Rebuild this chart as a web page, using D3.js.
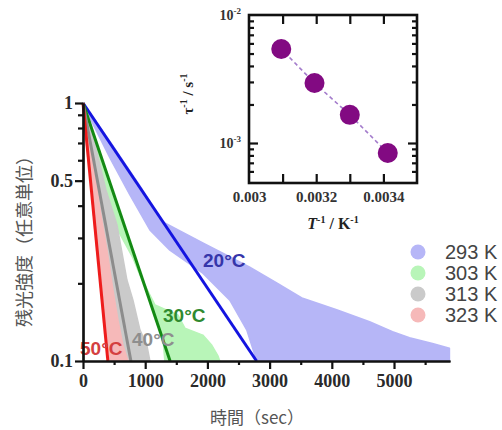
<!DOCTYPE html>
<html>
<head>
<meta charset="utf-8">
<script src="https://d3js.org/d3.v7.min.js"></script>
<style>
body { margin: 0; background: #fff; }
</style>
</head>
<body>
<div id="chart"></div>
<script>
// ---- data ----
var seriesNames = ["293 K", "303 K", "313 K", "323 K"];
var celsiusNames = ["20°C", "30°C", "40°C", "50°C"];
var fitEndTimes = [2790, 1400, 770, 400];          // sec where each fitted line reaches 0.1
var invT = [0.003413, 0.003300, 0.003195, 0.003096];
var tauInv = [8.35e-4, 1.66e-3, 2.94e-3, 5.42e-3];
var xTicks = [0, 1000, 2000, 3000, 4000, 5000];
var xMinorTicks = [500, 1500, 2500, 3500, 4500, 5500];
var yTicks = [0.1, 0.5, 1];
var yMinorTicks = [0.2, 0.3, 0.4, 0.6, 0.7, 0.8, 0.9];
var insetXLabels = [0.003, 0.0032, 0.0034];
var insetXTicks = [0.0031, 0.0032, 0.0033, 0.0034];
var insetYMajor = [1e-3];
var insetYMinor = [6e-4, 7e-4, 8e-4, 9e-4, 2e-3, 3e-3, 4e-3, 5e-3, 6e-3, 7e-3, 8e-3, 9e-3];

// outlines of the scatter clouds, [time, intensity]
var cloud293 = [[0, 1], [482, 0.681], [915, 0.477], [1284, 0.346], [1926, 0.287], [2247, 0.262],
    [2681, 0.231], [3114, 0.201], [3531, 0.175], [4077, 0.158], [4607, 0.142], [4976, 0.130],
    [5249, 0.123], [5618, 0.117], [5891, 0.112], [5891, 0.1], [2793, 0.1], [2632, 0.132],
    [2360, 0.172], [1926, 0.219], [1396, 0.269], [1075, 0.322], [754, 0.440], [433, 0.612], [32, 0.956]];
var cloud303 = [[0, 1], [241, 0.657], [498, 0.421], [915, 0.215], [1156, 0.165], [1525, 0.151],
    [1637, 0.134], [1926, 0.126], [2071, 0.115], [2167, 0.105], [2199, 0.1], [1316, 0.1],
    [1284, 0.124], [1156, 0.147], [1027, 0.185], [803, 0.251], [514, 0.337], [385, 0.440],
    [225, 0.657], [48, 0.956]];
var cloud313 = [[0, 1], [193, 0.688], [369, 0.460], [546, 0.337], [706, 0.206], [803, 0.172],
    [915, 0.132], [1027, 0.115], [1075, 0.1], [642, 0.1], [562, 0.144], [465, 0.188],
    [305, 0.336], [161, 0.550], [48, 0.899]];
var cloud323 = [[0, 1], [144, 0.657], [273, 0.385], [385, 0.269], [482, 0.188], [562, 0.144],
    [642, 0.115], [722, 0.1], [433, 0.1], [353, 0.144], [273, 0.206], [193, 0.322],
    [112, 0.526], [48, 0.822]];
var clouds = [cloud293, cloud303, cloud313, cloud323];

var cloudColors = ["#b6b6f7", "#b8f5b8", "#cacaca", "#f6b9b9"];
var lineColors = ["#1414e0", "#138a13", "#8c8c8c", "#ee1c1c"];
var labelColors = ["#3535aa", "#2f8a2f", "#8e8e8e", "#d44040"];

var w = 502, h = 430;

var svg = d3.select("#chart")
    .append("svg")
        .attr("width", w)
        .attr("height", h)
        .style("font-family", "'Liberation Serif', serif");

// ---- main chart ----
var x = d3.scaleLinear()
    .domain([0, 5900])
    .range([83, 450]);

var y = d3.scaleLog()
    .domain([0.1, 1])
    .range([361, 103]);

var line = d3.line()
    .x(function(d) { return x(d[0]); })
    .y(function(d) { return y(d[1]); });

svg.selectAll(".cloud")
    .data(clouds)
    .enter().append("path")
        .attr("class", "cloud")
        .attr("d", function(d) { return line(d) + "Z"; })
        .attr("fill", function(d, i) { return cloudColors[i]; })
        .attr("stroke", function(d, i) { return cloudColors[i]; })
        .attr("stroke-width", 1.5)
        .attr("stroke-linejoin", "round");

svg.selectAll(".fit")
    .data(fitEndTimes)
    .enter().append("path")
        .attr("class", "fit")
        .attr("d", function(d) { return line([[0, 1], [d, 0.1]]); })
        .attr("fill", "none")
        .attr("stroke", function(d, i) { return lineColors[i]; })
        .attr("stroke-width", 3);

// temperature labels on the curves
var tempPos = [[203, 267], [163, 322], [132, 346], [80, 355]];
svg.selectAll(".temp")
    .data(celsiusNames)
    .enter().append("text")
        .attr("class", "temp")
        .attr("x", function(d, i) { return tempPos[i][0]; })
        .attr("y", function(d, i) { return tempPos[i][1]; })
        .text(function(d) { return d; })
        .style("font-family", "'Liberation Sans', Arial, sans-serif")
        .style("font-size", "19px")
        .style("font-weight", "bold")
        .attr("fill", function(d, i) { return labelColors[i]; });

// axes
var yAxis = d3.axisLeft(y)
    .tickValues(yTicks)
    .tickFormat(function(d) { return d3.format("")(d); })
    .tickSizeInner(8)
    .tickSizeOuter(0)
    .tickPadding(2);
var yMinor = d3.axisLeft(y).tickValues(yMinorTicks).tickFormat("").tickSizeInner(5).tickSizeOuter(0);
var xAxis = d3.axisBottom(x)
    .tickValues(xTicks)
    .tickFormat(d3.format("d"))
    .tickSizeInner(8)
    .tickSizeOuter(0)
    .tickPadding(5);
var xMinor = d3.axisBottom(x).tickValues(xMinorTicks).tickFormat("").tickSizeInner(4).tickSizeOuter(0);

function styleAxis(g, size) {
    g.selectAll("path").attr("stroke", "#111").attr("stroke-width", 2.2);
    g.selectAll("line").attr("stroke", "#111").attr("stroke-width", 2.2);
    g.selectAll("text")
        .attr("fill", "#2a2a2a")
        .style("font-family", "'Liberation Serif', serif")
        .style("font-weight", "bold")
        .style("font-size", size);
}

svg.append("g").attr("transform", "translate(83,0)").call(yMinor).call(styleAxis, "18px");
svg.append("g").attr("transform", "translate(83,0)").call(yAxis).call(styleAxis, "18px");
svg.append("g").attr("transform", "translate(0,361)").call(xMinor).call(styleAxis, "18px");
svg.append("g").attr("transform", "translate(0,361)").call(xAxis).call(styleAxis, "18px");

svg.append("text")
    .attr("transform", "translate(31,237) rotate(-90)")
    .attr("text-anchor", "middle")
    .text("残光強度（任意単位）")
    .style("font-family", "'Noto Sans CJK JP', sans-serif")
    .style("font-size", "18px")
    .attr("fill", "#555");

svg.append("text")
    .attr("x", 257)
    .attr("y", 424)
    .attr("text-anchor", "middle")
    .text("時間（sec）")
    .style("font-family", "'Noto Sans CJK JP', sans-serif")
    .style("font-size", "17px")
    .attr("fill", "#555");

// legend
var legendG = svg.selectAll(".legend")
    .data(seriesNames)
    .enter().append("g")
        .attr("class", "legend")
        .attr("transform", function(d, i) { return "translate(418," + (252 + i * 21) + ")"; });

legendG.append("circle")
    .attr("r", 7.5)
    .attr("fill", function(d, i) { return cloudColors[i]; });

legendG.append("text")
    .attr("x", 27)
    .attr("y", 7)
    .text(function(d) { return d; })
    .style("font-family", "'Liberation Sans', Arial, sans-serif")
    .style("font-size", "20px")
    .attr("fill", "#444");

// ---- inset: Arrhenius plot ----
var xi = d3.scaleLinear()
    .domain([0.003, 0.0035])
    .range([249, 417]);

var yi = d3.scaleLog()
    .domain([4.87e-4, 1e-2])
    .range([183, 15]);

var inset = svg.append("g");

var insetPts = invT.map(function(d, i) { return [d, tauInv[i]]; });

inset.append("path")
    .attr("d", d3.line().x(function(d) { return xi(d[0]); }).y(function(d) { return yi(d[1]); })(insetPts))
    .attr("fill", "none")
    .attr("stroke", "#a47ccc")
    .attr("stroke-width", 1.6)
    .attr("stroke-dasharray", "4,3");

inset.selectAll(".pt")
    .data(insetPts)
    .enter().append("circle")
        .attr("class", "pt")
        .attr("cx", function(d) { return xi(d[0]); })
        .attr("cy", function(d) { return yi(d[1]); })
        .attr("r", 10)
        .attr("fill", "#820a82");

function insetTicks(g) {
    g.select(".domain").remove();
    g.selectAll("line").attr("stroke", "#111").attr("stroke-width", 2.2);
}

inset.append("g").attr("transform", "translate(0,183)")
    .call(d3.axisBottom(xi).tickValues(insetXTicks).tickFormat("").tickSizeInner(-9).tickSizeOuter(0)).call(insetTicks);
inset.append("g").attr("transform", "translate(0,15)")
    .call(d3.axisTop(xi).tickValues(insetXTicks).tickFormat("").tickSizeInner(-9).tickSizeOuter(0)).call(insetTicks);
inset.append("g").attr("transform", "translate(249,0)")
    .call(d3.axisLeft(yi).tickValues(insetYMajor).tickFormat("").tickSizeInner(-9).tickSizeOuter(0)).call(insetTicks);
inset.append("g").attr("transform", "translate(249,0)")
    .call(d3.axisLeft(yi).tickValues(insetYMinor).tickFormat("").tickSizeInner(-5).tickSizeOuter(0)).call(insetTicks);
inset.append("g").attr("transform", "translate(417,0)")
    .call(d3.axisRight(yi).tickValues(insetYMajor).tickFormat("").tickSizeInner(-9).tickSizeOuter(0)).call(insetTicks);
inset.append("g").attr("transform", "translate(417,0)")
    .call(d3.axisRight(yi).tickValues(insetYMinor).tickFormat("").tickSizeInner(-5).tickSizeOuter(0)).call(insetTicks);

inset.append("rect")
    .attr("x", 249)
    .attr("y", 15)
    .attr("width", 168)
    .attr("height", 168)
    .attr("fill", "none")
    .attr("stroke", "#111")
    .attr("stroke-width", 2.6);

// inset tick labels
var xLab = inset.append("g").attr("transform", "translate(0,183)")
    .call(d3.axisBottom(xi).tickValues(insetXLabels).tickFormat(d3.format("")).tickSize(0).tickPadding(8));
xLab.select(".domain").remove();
xLab.selectAll("text")
    .attr("fill", "#333")
    .style("font-family", "'Liberation Serif', serif")
    .style("font-weight", "bold")
    .style("font-size", "15px");

var yLabVals = [1e-2, 1e-3];
var yLab = inset.selectAll(".ylab")
    .data(yLabVals)
    .enter().append("text")
        .attr("class", "ylab")
        .attr("x", 241)
        .attr("y", function(d) { return yi(d) + 5; })
        .attr("text-anchor", "end")
        .style("font-weight", "bold")
        .style("font-size", "14px")
        .attr("fill", "#333");
yLab.append("tspan").text("10");
yLab.append("tspan")
    .attr("dy", -6)
    .style("font-size", "9px")
    .text(function(d) { return Math.round(Math.log10(d)); });

var yt = inset.append("text")
    .attr("transform", "translate(193,94) rotate(-90)")
    .attr("text-anchor", "middle")
    .style("font-weight", "bold")
    .style("font-size", "15px")
    .attr("fill", "#222");
yt.append("tspan").text("τ");
yt.append("tspan").attr("dy", -6).style("font-size", "10px").text("-1");
yt.append("tspan").attr("dy", 6).text(" / s");
yt.append("tspan").attr("dy", -6).style("font-size", "10px").text("-1");

var xt = inset.append("text")
    .attr("x", 333)
    .attr("y", 229)
    .attr("text-anchor", "middle")
    .style("font-weight", "bold")
    .style("font-size", "16px")
    .attr("fill", "#222");
xt.append("tspan").style("font-style", "italic").text("T");
xt.append("tspan").attr("dy", -6).style("font-size", "10px").text("-1");
xt.append("tspan").attr("dy", 6).text(" / K");
xt.append("tspan").attr("dy", -6).style("font-size", "10px").text("-1");
</script>
</body>
</html>
